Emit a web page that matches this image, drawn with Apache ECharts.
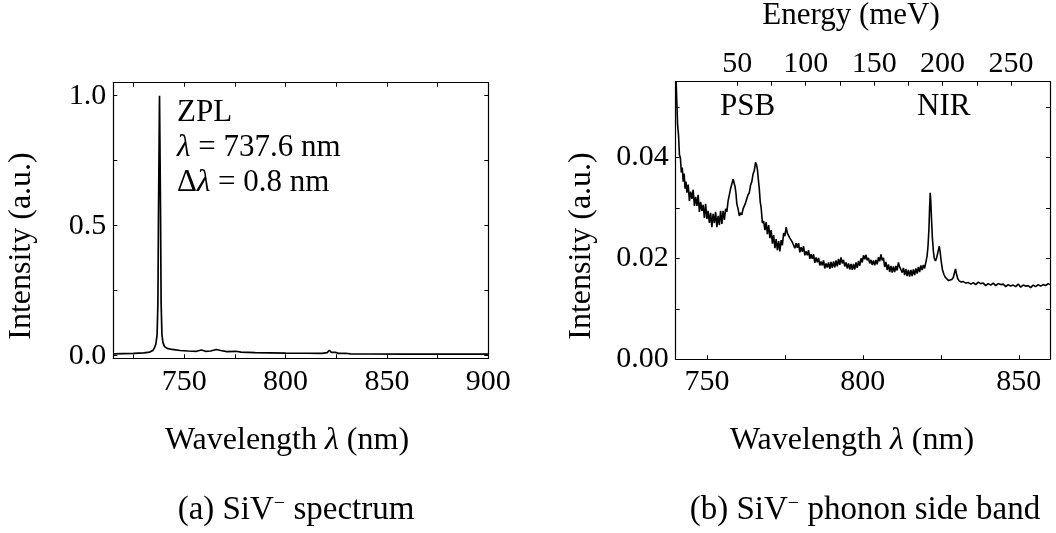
<!DOCTYPE html>
<html>
<head>
<meta charset="utf-8">
<script src="https://cdn.jsdelivr.net/npm/echarts@6/dist/echarts.min.js"></script>
<style>html,body{margin:0;padding:0;background:#fff}#c{width:1056px;height:533px}</style>
</head>
<body>
<div id="c"></div>
<script>
// ---------- (a) full spectrum ----------
const zplWavelength = [715, 720, 725, 730, 733, 734.5, 735.3, 736.0, 736.6, 737.0,
  737.3, 737.8, 738.3, 738.6, 739.0, 739.5, 740.3, 741.5, 744, 748,
  752, 756, 758.5, 760.5, 763, 765.8, 768, 771, 775.5, 778,
  785, 792, 800, 810, 818, 820.5, 821.6, 822.6, 824.5, 826,
  829.5, 832, 840, 860, 880, 900];
const zplIntensity = [0.007, 0.008, 0.009, 0.011, 0.014, 0.020, 0.030, 0.045, 0.080, 0.20,
  0.55, 1.0, 0.55, 0.20, 0.080, 0.050, 0.035, 0.028, 0.024, 0.020,
  0.018, 0.017, 0.022, 0.017, 0.018, 0.024, 0.020, 0.016, 0.017, 0.014,
  0.012, 0.011, 0.010, 0.0095, 0.009, 0.012, 0.021, 0.013, 0.013, 0.009,
  0.0095, 0.007, 0.0065, 0.006, 0.006, 0.006];

// ---------- (b) phonon side band ----------
const psbWavelength = [
  740.0, 740.3, 740.6, 740.9, 741.2, 741.5, 741.8, 742.1, 742.4, 742.7,
  743.0, 743.3, 743.6, 744.0, 744.4, 744.8, 745.2, 745.6, 746.0, 746.4,
  746.8, 747.2, 747.6, 748.0, 748.4, 748.8, 749.2, 749.6, 750.0, 750.4,
  750.8, 751.2, 751.6, 752.0, 752.4, 752.8, 753.2, 753.6, 754.0, 754.4,
  754.8, 755.2, 755.6, 756.0, 756.4, 756.8, 757.2, 757.6, 758.0, 758.4,
  758.7, 759.0, 759.3, 759.6, 760.0, 760.4, 760.8, 761.2, 761.6, 762.0,
  762.4, 762.8, 763.2, 763.6, 764.0, 764.4, 764.8, 765.2, 765.6, 765.9,
  766.2, 766.5, 766.8, 767.1, 767.4, 767.8, 768.2, 768.6, 769.0, 769.4,
  769.8, 770.2, 770.6, 771.0, 771.4, 771.8, 772.2, 772.6, 773.0, 773.4,
  773.8, 774.2, 774.6, 775.0, 775.4, 775.8, 776.2, 776.6, 777.0, 777.4,
  777.8, 778.2, 778.6, 779.0, 779.4, 779.8, 780.2, 780.6, 781.0, 781.4,
  781.8, 782.2, 782.6, 783.0, 783.4, 783.8, 784.2, 784.6, 785.0, 785.4,
  785.8, 786.2, 786.6, 787.0, 787.4, 787.8, 788.2, 788.6, 789.0, 789.4,
  789.8, 790.2, 790.6, 791.0, 791.4, 791.8, 792.2, 792.6, 793.0, 793.4,
  793.8, 794.2, 794.6, 795.0, 795.4, 795.8, 796.2, 796.6, 797.0, 797.4,
  797.8, 798.2, 798.6, 799.0, 799.4, 799.8, 800.2, 800.6, 801.0, 801.4,
  801.8, 802.2, 802.6, 803.0, 803.4, 803.8, 804.2, 804.6, 805.0, 805.4,
  805.8, 806.2, 806.6, 807.0, 807.4, 807.8, 808.2, 808.6, 809.0, 809.4,
  809.8, 810.2, 810.6, 811.0, 811.4, 811.8, 812.2, 812.6, 813.0, 813.4,
  813.8, 814.2, 814.6, 815.0, 815.4, 815.8, 816.2, 816.6, 817.0, 817.4,
  817.8, 818.2, 818.6, 819.0, 819.4, 819.8, 820.2, 820.6, 820.9, 821.2,
  821.4, 821.6, 821.8, 822.0, 822.3, 822.6, 822.9, 823.3, 823.7, 824.1,
  824.5, 824.8, 825.1, 825.5, 826.0, 826.5, 827.0, 827.5, 828.0, 828.5,
  829.0, 829.4, 829.7, 830.0, 830.4, 830.8, 831.5, 832.2, 833.0, 833.8,
  834.6, 835.4, 836.2, 837.0, 837.8, 838.6, 839.4, 840.2, 841.0, 841.8,
  842.6, 843.4, 844.2, 845.0, 845.8, 846.6, 847.4, 848.2, 849.0, 849.8,
  850.6, 851.4, 852.2, 853.0, 853.8, 854.6, 855.4, 856.2, 857.0, 857.8,
  858.6, 859.4, 860.0];
const psbIntensity = [
  0.0580, 0.0520, 0.0465, 0.0445, 0.0405, 0.0400, 0.0370, 0.0380, 0.0352, 0.0368,
  0.0338, 0.0352, 0.0330, 0.0346, 0.0314, 0.0332, 0.0318, 0.0336, 0.0304, 0.0322,
  0.0304, 0.0326, 0.0292, 0.0312, 0.0294, 0.0306, 0.0280, 0.0308, 0.0278, 0.0294,
  0.0270, 0.0290, 0.0262, 0.0288, 0.0270, 0.0292, 0.0262, 0.0284, 0.0266, 0.0294,
  0.0268, 0.0294, 0.0276, 0.0298, 0.0292, 0.0314, 0.0313, 0.0338, 0.0336, 0.0357,
  0.0358, 0.0343, 0.0330, 0.0308, 0.0298, 0.0284, 0.0290, 0.0286, 0.0298, 0.0298,
  0.0310, 0.0312, 0.0326, 0.0330, 0.0345, 0.0352, 0.0367, 0.0374, 0.0390, 0.0386,
  0.0376, 0.0356, 0.0338, 0.0312, 0.0300, 0.0270, 0.0274, 0.0256, 0.0272, 0.0248,
  0.0266, 0.0240, 0.0256, 0.0229, 0.0246, 0.0220, 0.0238, 0.0216, 0.0234, 0.0214,
  0.0236, 0.0226, 0.0250, 0.0244, 0.0262, 0.0250, 0.0250, 0.0240, 0.0240, 0.0232,
  0.0234, 0.0220, 0.0230, 0.0221, 0.0230, 0.0212, 0.0222, 0.0213, 0.0224, 0.0206,
  0.0214, 0.0206, 0.0216, 0.0199, 0.0208, 0.0199, 0.0208, 0.0191, 0.0202, 0.0192,
  0.0201, 0.0186, 0.0194, 0.0186, 0.0196, 0.0180, 0.0190, 0.0182, 0.0192, 0.0179,
  0.0193, 0.0181, 0.0194, 0.0182, 0.0196, 0.0184, 0.0199, 0.0187, 0.0202, 0.0190,
  0.0197, 0.0184, 0.0192, 0.0180, 0.0190, 0.0178, 0.0189, 0.0177, 0.0189, 0.0178,
  0.0192, 0.0181, 0.0195, 0.0185, 0.0200, 0.0192, 0.0206, 0.0198, 0.0207, 0.0196,
  0.0201, 0.0190, 0.0197, 0.0187, 0.0196, 0.0186, 0.0197, 0.0188, 0.0202, 0.0194,
  0.0208, 0.0196, 0.0201, 0.0183, 0.0193, 0.0177, 0.0188, 0.0173, 0.0185, 0.0172,
  0.0184, 0.0173, 0.0185, 0.0176, 0.0192, 0.0183, 0.0184, 0.0172, 0.0181, 0.0167,
  0.0179, 0.0165, 0.0177, 0.0164, 0.0177, 0.0165, 0.0178, 0.0167, 0.0180, 0.0170,
  0.0183, 0.0173, 0.0186, 0.0177, 0.0187, 0.0180, 0.0192, 0.0205, 0.0225, 0.0260,
  0.0300, 0.0330, 0.0310, 0.0280, 0.0240, 0.0215, 0.0200, 0.0195, 0.0202, 0.0213,
  0.0224, 0.0212, 0.0195, 0.0178, 0.0168, 0.0162, 0.0160, 0.0156, 0.0157, 0.0158,
  0.0162, 0.0172, 0.0179, 0.0170, 0.0160, 0.0156, 0.0153, 0.0154, 0.0151, 0.0152,
  0.0149, 0.0152, 0.0148, 0.0153, 0.0150, 0.0151, 0.0146, 0.0150, 0.0147, 0.0151,
  0.0146, 0.0150, 0.0148, 0.0149, 0.0144, 0.0148, 0.0145, 0.0147, 0.0144, 0.0149,
  0.0143, 0.0147, 0.0145, 0.0146, 0.0142, 0.0147, 0.0144, 0.0148, 0.0145, 0.0148,
  0.0146, 0.0150, 0.0148];

// ticks and labels
const aXTicks = [725, 750, 775, 800, 825, 850, 875, 900];
const aXLabels = [750, 800, 850, 900];
const aYTicks = [0, 0.25, 0.5, 0.75, 1.0];
const aYLabels = [0, 0.5, 1.0];
const bXTicks = [750, 775, 800, 825, 850];
const bXLabels = [750, 800, 850];
const bYTicks = [0, 0.01, 0.02, 0.03, 0.04, 0.05];
const bYLabels = [0, 0.02, 0.04];
const energyTicks = [50, 75, 100, 125, 150, 175, 200, 225, 250];
const energyLabels = [50, 100, 150, 200, 250];

const FONT = '"Liberation Serif", "Times New Roman", serif';
const zip = (a, b) => a.map((v, i) => [v, b[i]]);

function xAx(grid, pos, min, max, ticks, labels, margin) {
  return {
    type: 'value', gridIndex: grid, position: pos, min: min, max: max,
    axisLine: { show: true, onZero: false, lineStyle: { color: '#000', width: 1.2 } },
    axisTick: { show: true, inside: true, length: 4, customValues: ticks, lineStyle: { color: '#000', width: 1 } },
    axisLabel: labels ? { show: true, customValues: labels, margin: margin, color: '#000', fontFamily: FONT, fontSize: 30,
      formatter: v => String(v) } : { show: false },
    splitLine: { show: false }
  };
}
function yAx(grid, pos, min, max, ticks, labels, dec) {
  return {
    type: 'value', gridIndex: grid, position: pos, min: min, max: max,
    axisLine: { show: true, onZero: false, lineStyle: { color: '#000', width: 1.2 } },
    axisTick: { show: true, inside: true, length: 4, customValues: ticks, lineStyle: { color: '#000', width: 1 } },
    axisLabel: labels ? { show: true, customValues: labels, margin: 7, color: '#000', fontFamily: FONT, fontSize: 30,
      formatter: v => Number(v).toFixed(dec) } : { show: false },
    splitLine: { show: false }
  };
}

const chart = echarts.init(document.getElementById('c'), null, { renderer: 'canvas' });
const txt = (x, y, text, size, extra) => ({
  type: 'text', x: x, y: y,
  style: Object.assign({ text: text, fill: '#000', font: size + 'px ' + FONT, align: 'left', verticalAlign: 'middle',
    rich: { it: { fontStyle: 'italic', fontSize: size, fontFamily: FONT },
            sup: { fontSize: Math.round(size * 0.62), fontFamily: FONT, verticalAlign: 'top', padding: [0, 0, 10, 0] },
            n: { fontSize: size, fontFamily: FONT } } }, extra || {})
});

chart.setOption({
  animation: false,
  backgroundColor: '#fff',
  grid: [
    { left: 113.3, top: 82.7, width: 375, height: 275.6 },
    { left: 675.7, top: 81.7, width: 374.3, height: 277.6 }
  ],
  xAxis: [
    xAx(0, 'bottom', 715, 900, aXTicks, aXLabels, 9),
    xAx(0, 'top', 715, 900, aXTicks, null),
    xAx(1, 'bottom', 740, 860, bXTicks, bXLabels, 8),
    xAx(1, 'top', 5, 278.5, energyTicks, energyLabels, 3)
  ],
  yAxis: [
    yAx(0, 'left', -0.01, 1.05, aYTicks, aYLabels, 1),
    yAx(0, 'right', -0.01, 1.05, aYTicks, null),
    yAx(1, 'left', 0, 0.055, bYTicks, bYLabels, 2),
    yAx(1, 'right', 0, 0.055, bYTicks, null)
  ],
  series: [
    { type: 'line', xAxisIndex: 0, yAxisIndex: 0, data: zip(zplWavelength, zplIntensity),
      showSymbol: false, symbol: 'none', lineStyle: { color: '#000', width: 1.7 }, clip: true },
    { type: 'line', xAxisIndex: 2, yAxisIndex: 2, data: zip(psbWavelength, psbIntensity),
      showSymbol: false, symbol: 'none', lineStyle: { color: '#000', width: 1.6 }, clip: true }
  ],
  graphic: [
    txt(177, 113, 'ZPL', 31),
    txt(177, 148, '{it|λ}{n| = 737.6 nm}', 31),
    txt(177, 183, '{n|Δ}{it|λ}{n| = 0.8 nm}', 31),
    txt(720, 107, 'PSB', 31),
    txt(917, 107, 'NIR', 31),
    txt(851, 16, 'Energy (meV)', 31, { align: 'center' }),
    txt(287, 441, '{n|Wavelength }{it|λ}{n| (nm)}', 32, { align: 'center' }),
    txt(852, 441, '{n|Wavelength }{it|λ}{n| (nm)}', 32, { align: 'center' }),
    txt(296, 510, '{n|(a) SiV}{sup|−}{n| spectrum}', 33, { align: 'center' }),
    txt(865, 510, '{n|(b) SiV}{sup|−}{n| phonon side band}', 33, { align: 'center' }),
    Object.assign(txt(22, 246, 'Intensity (a.u.)', 32, { align: 'center' }), { rotation: Math.PI / 2 }),
    Object.assign(txt(582, 246, 'Intensity (a.u.)', 32, { align: 'center' }), { rotation: Math.PI / 2 })
  ]
});
</script>
</body>
</html>
